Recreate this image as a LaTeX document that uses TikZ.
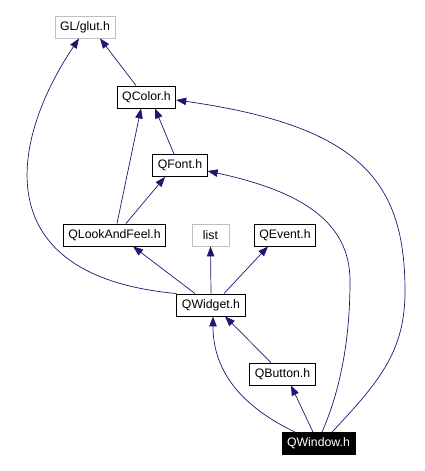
\documentclass[tikz,border=0pt]{standalone}
\usepackage{fontspec}
\setmainfont{Liberation Sans}
\usetikzlibrary{arrows.meta}
\definecolor{incblue}{HTML}{191970}
\definecolor{extgray}{HTML}{BFBFBF}

\begin{document}
\begin{tikzpicture}[x=1pt, y=1pt,
  hdr/.style={draw, rectangle, line width=0.9pt, inner xsep=5pt, inner ysep=0pt,
    minimum height=22pt, minimum width=37pt, font=\fontsize{12.3}{14}\selectfont},
  ext/.style={hdr, draw=extgray},
  top/.style={hdr, fill=black, text=white},
  inc/.style={incblue, line width=0.7pt, -{Triangle[length=10pt,width=7.5pt]}}]
\useasboundingbox (0,0) rectangle (424,471);
\node[ext] (1) at (85,444) {GL/glut.h};
\node[hdr] (2) at (146.5,374) {QColor.h};
\node[hdr] (3) at (180,305.5) {QFont.h};
\node[hdr] (4) at (114.5,236) {QLookAndFeel.h};
\node[ext] (5) at (210.5,236) {list};
\node[hdr] (6) at (285,236) {QEvent.h};
\node[hdr] (7) at (211,166) {QWidget.h};
\node[hdr] (8) at (282.5,97) {QButton.h};
\node[top] (9) at (318.5,27.5) {QWindow.h};
\path[draw,inc] ([xshift=-10.5pt]2.north) -- ([xshift=15pt]1.south);
\path[draw,inc] (7.north west) .. controls (-15,195) and (10,330) .. ([xshift=-6pt]1.south);
\path[draw,inc] ([xshift=2.5pt]4.north) -- ([xshift=-5.5pt]2.south);
\path[draw,inc] ([xshift=-6pt]3.north) -- ([xshift=8.5pt]2.south);
\path[draw,inc] ([xshift=11.5pt]4.north) -- ([xshift=-15pt]3.south);
\path[draw,inc] ([xshift=-16pt]7.north) -- ([xshift=18.5pt]4.south);
\path[draw,inc] (7.north) -- (5.south);
\path[draw,inc] ([xshift=13pt]7.north) -- ([xshift=-17pt]6.south);
\path[draw,inc] ([xshift=-11.5pt]8.north) -- ([xshift=14pt]7.south);
\path[draw,inc] ([xshift=-23.5pt]9.north) .. controls (230,70) and (213,110) .. ([xshift=2pt]7.south);
\path[draw,inc] ([xshift=-5.5pt]9.north) -- ([xshift=8.5pt]8.south);
\path[draw,inc] ([xshift=3.5pt]9.north) .. controls (340,80) and (350,130) .. (350,190)
  .. controls (350,250) and (300,280) .. ([yshift=-5.5pt]3.east);
\path[draw,inc] ([xshift=13.5pt]9.north) .. controls (380,90) and (405,120) .. (405,180)
  .. controls (405,290) and (360,345) .. ([yshift=-3pt]2.east);
\end{tikzpicture}
\end{document}
